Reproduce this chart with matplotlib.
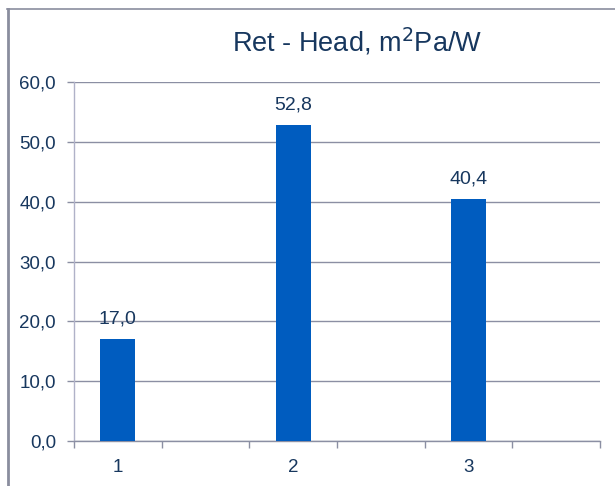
import matplotlib
matplotlib.use("Agg")
import matplotlib.pyplot as plt
from matplotlib.lines import Line2D
from matplotlib.ticker import FixedLocator, NullFormatter, FixedFormatter

plt.rcParams['font.family'] = ['Liberation Sans', 'DejaVu Sans']

# Data
categories = ["1", "2", "3"]
values = [17.0, 52.8, 40.4]
slot_positions = [0.5, 2.5, 4.5]   # bars sit in every other slot of a 6-slot axis
y_ticks = [0, 10, 20, 30, 40, 50, 60]
title = "Ret - Head, m$^{2}$Pa/W"

text_color = "#17375e"
bar_color = "#005cbf"
grid_color = "#8b8fa3"
spine_color = "#b0b2c8"
frame_color = "#8a8d9e"

fig = plt.figure(figsize=(6.15, 4.86), dpi=100)
ax = fig.add_axes([74 / 615, 1 - 441 / 486, (600 - 74) / 615, (441 - 82) / 486])

ax.bar(slot_positions, values, width=0.4, color=bar_color, zorder=3)

for x, v in zip(slot_positions, values):
    ax.annotate(f"{v:.1f}".replace(".", ","), (x, v), xytext=(0, 8.5),
                textcoords="offset points", ha="center", va="bottom",
                fontsize=14, color=text_color)

ax.set_xlim(0, 6)
ax.set_ylim(0, 60)

ax.set_yticks(y_ticks)
ax.set_yticklabels([f"{t:.1f}".replace(".", ",") for t in y_ticks])
ax.yaxis.grid(True, color=grid_color, linewidth=1.0, zorder=0)
ax.tick_params(axis="y", length=5, width=1.0, color=grid_color, pad=8,
               labelsize=13.5, labelcolor=text_color)

# slot boundaries get tick marks, category names sit between them
ax.xaxis.set_major_locator(FixedLocator(range(7)))
ax.xaxis.set_major_formatter(NullFormatter())
ax.xaxis.set_minor_locator(FixedLocator(slot_positions))
ax.xaxis.set_minor_formatter(FixedFormatter(categories))
ax.tick_params(axis="x", which="major", length=5, width=1.0, color=grid_color)
ax.tick_params(axis="x", which="minor", length=0, pad=13,
               labelsize=13.5, labelcolor=text_color)

for s in ("top", "right"):
    ax.spines[s].set_visible(False)
ax.spines["left"].set_color(spine_color)
ax.spines["left"].set_linewidth(1.0)
ax.spines["bottom"].set_color(grid_color)
ax.spines["bottom"].set_linewidth(1.0)

fig.text(357 / 615, 1 - 42 / 486, title, ha="center", va="center",
         fontsize=19.5, color=text_color)

# chart-area frame along the top and left edges
fig.add_artist(Line2D([7 / 615, 1.0], [1 - 9 / 486, 1 - 9 / 486],
                      transform=fig.transFigure, color=frame_color, linewidth=1.2))
fig.add_artist(Line2D([7.5 / 615, 7.5 / 615], [1 - 9 / 486, 0.0],
                      transform=fig.transFigure, color=frame_color, linewidth=2.0))

fig.savefig("out.png", dpi=100)
